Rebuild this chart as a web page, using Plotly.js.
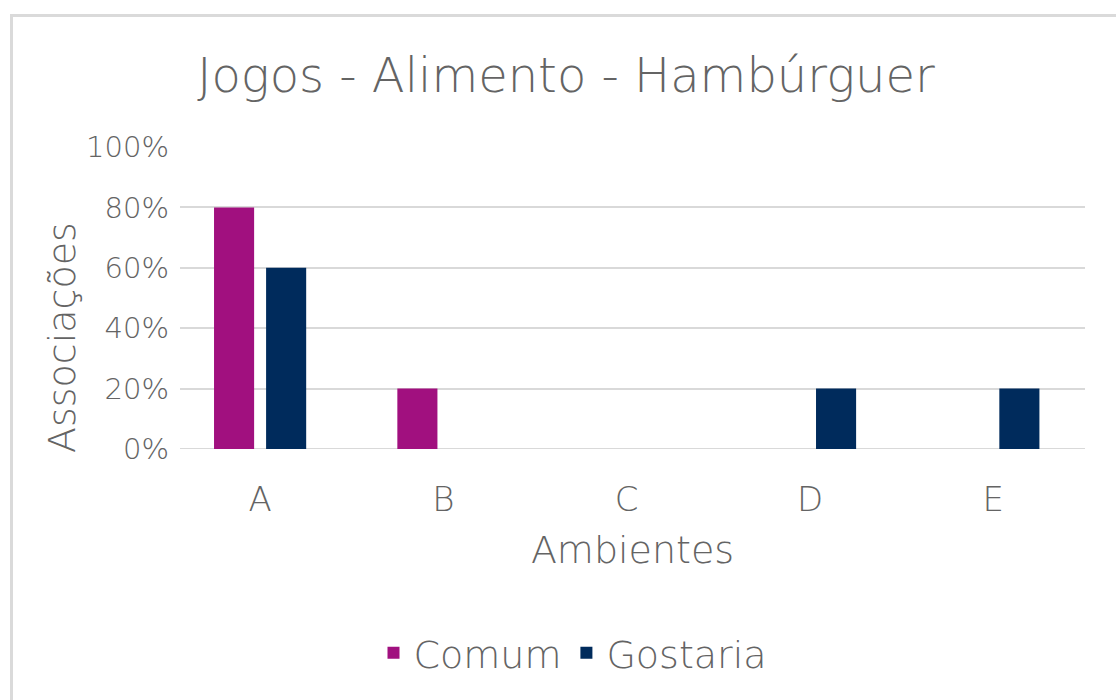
<!DOCTYPE html>
<html>
<head>
<meta charset="utf-8">
<script src="https://cdn.plot.ly/plotly-3.0.1.min.js"></script>
<style>
html,body{margin:0;padding:0;background:#fff;}
#frame{position:absolute;left:10px;top:14px;width:1200px;height:800px;border-left:3px solid #dadada;border-top:3px solid #dadada;box-sizing:border-box;pointer-events:none;}
#chart{position:absolute;left:0;top:0;width:1116px;height:700px;}
</style>
</head>
<body>
<div id="chart"></div>
<div id="frame"></div>
<script>
const categories = ["A", "B", "C", "D", "E"];
const comum = [0.8, 0.2, 0, 0, 0];
const gostaria = [0.6, 0, 0, 0.2, 0.2];
const seriesNames = ["Comum", "Gostaria"];
const yTickVals = [0, 0.2, 0.4, 0.6, 0.8, 1.0];
const yTickText = ["0%", "20%", "40%", "60%", "80%", "100%"];
const chartTitle = "Jogos - Alimento - Hambúrguer";
const xTitle = "Ambientes";
const yTitle = "Associações";

const fontFam = "'DejaVu Sans', sans-serif";
const gray = "#646464";

const traces = [
  {type: "bar", name: seriesNames[0], x: categories, y: comum, marker: {color: "#A1107F"}},
  {type: "bar", name: seriesNames[1], x: categories, y: gostaria, marker: {color: "#002B5C"}}
];

const layout = {
  width: 1116, height: 700,
  paper_bgcolor: "rgba(0,0,0,0)", plot_bgcolor: "rgba(0,0,0,0)",
  margin: {l: 180, r: 31, t: 147, b: 251, pad: 0},
  barmode: "group", bargap: 0.432, bargroupgap: 0.23,
  font: {family: fontFam, color: gray, weight: 300},
  title: {text: chartTitle, font: {size: 48, color: gray, family: fontFam, weight: 300},
          xref: "container", yref: "container", x: 566/1116, y: 1 - 75/700, xanchor: "center", yanchor: "middle"},
  xaxis: {
    type: "category", range: [-0.437, 4.5], showgrid: false, zeroline: false, showline: false,
    ticks: "", ticklabelstandoff: 27, tickfont: {size: 34, color: gray, weight: 300},
    title: {text: xTitle, font: {size: 38, color: gray, weight: 300}, standoff: 18},
    fixedrange: true
  },
  yaxis: {
    range: [0, 1], tickvals: yTickVals, ticktext: yTickText, showgrid: true, gridcolor: "#d9d9d9", gridwidth: 2,
    zeroline: false, showline: false, ticks: "", ticklabelstandoff: 10, tickfont: {size: 29, color: gray, weight: 300},
    fixedrange: true
  },
  annotations: [{
    text: yTitle, xref: "paper", yref: "paper", x: (62 - 180) / 905, y: (449 - 337) / 302,
    xanchor: "center", yanchor: "middle", textangle: -90, showarrow: false,
    font: {size: 38, color: gray, family: fontFam, weight: 300}
  }],
  shapes: [{type: "line", xref: "paper", yref: "y", x0: 0, x1: 1, y0: 0, y1: 0, line: {color: "#d9d9d9", width: 2}, layer: "below"}],
  legend: {orientation: "h", xref: "container", yref: "container", x: 573/1116, y: 1 - 653/700,
           xanchor: "center", yanchor: "middle", font: {size: 38, color: gray, weight: 300}, itemwidth: 30, tracegroupgap: 0},
  showlegend: true
};

Plotly.newPlot("chart", traces, layout, {displayModeBar: false, staticPlot: true});
</script>
</body>
</html>
